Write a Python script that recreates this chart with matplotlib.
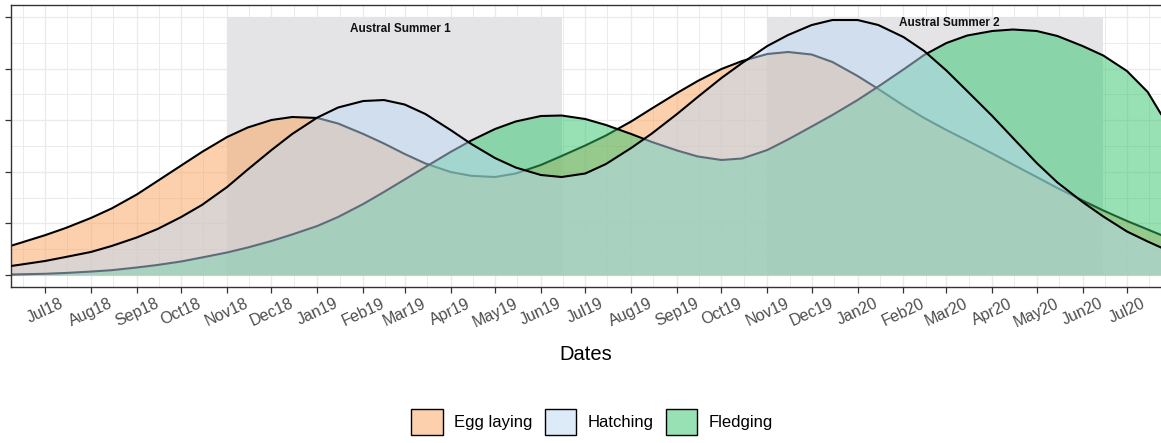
import numpy as np
import matplotlib
matplotlib.use("Agg")
import matplotlib.pyplot as plt
import matplotlib.dates as mdates
from matplotlib.patches import Patch

plt.rcParams['font.family'] = ['Liberation Sans', 'DejaVu Sans']

# sampling dates (1st and 15th of each month)
dates = ["2018-06-08", "2018-06-15"]
for yr, months in ((2018, range(7, 13)), (2019, range(1, 13)), (2020, range(1, 8))):
    for mo in months:
        dates.append(f"{yr}-{mo:02d}-01")
        dates.append(f"{yr}-{mo:02d}-15")
dates.append("2020-07-24")
dates = np.array(dates, dtype="datetime64[D]")

egg_laying = [0.566, 0.628, 0.771, 0.911, 1.105, 1.289, 1.560, 1.822, 2.122, 2.384, 2.674, 2.859, 3.004, 3.062,
              3.043, 2.936, 2.733, 2.548, 2.345, 2.161, 1.996, 1.922, 1.899, 1.967, 2.132, 2.306, 2.510, 2.704,
              2.975, 3.227, 3.527, 3.760, 3.992, 4.147, 4.283, 4.322, 4.273, 4.128,
              3.857, 3.605, 3.285, 3.043, 2.810, 2.607, 2.355, 2.141, 1.899, 1.686, 1.444, 1.250, 1.047, 0.882, 0.775]
hatching = [0.174, 0.203, 0.271, 0.349, 0.446, 0.562, 0.727, 0.891, 1.124, 1.357, 1.705, 2.045, 2.422, 2.733,
            3.052, 3.246, 3.372, 3.391, 3.304, 3.120, 2.810, 2.539, 2.267, 2.083, 1.938, 1.899, 1.967, 2.151,
            2.461, 2.742, 3.120, 3.450, 3.818, 4.109, 4.438, 4.651, 4.845, 4.942,
            4.942, 4.845, 4.612, 4.341, 3.963, 3.566, 3.081, 2.655, 2.171, 1.793, 1.415, 1.134, 0.843, 0.649, 0.533]
fledging = [0.010, 0.014, 0.023, 0.039, 0.066, 0.093, 0.145, 0.194, 0.262, 0.339, 0.436, 0.533, 0.659, 0.785,
            0.950, 1.124, 1.376, 1.609, 1.851, 2.093, 2.384, 2.607, 2.829, 2.975, 3.081, 3.091, 3.023, 2.907,
            2.733, 2.578, 2.413, 2.297, 2.229, 2.258, 2.422, 2.626, 2.878, 3.101,
            3.391, 3.653, 3.983, 4.264, 4.496, 4.641, 4.729, 4.758, 4.729, 4.632, 4.438, 4.254, 3.953, 3.547, 3.120]

series_names = ["Egg laying", "Fledging", "Hatching"]   # drawing order
series_colors = {"Egg laying": "#FBA35B", "Hatching": "#BDD9F5", "Fledging": "#31C56D"}
legend_order = ["Egg laying", "Hatching", "Fledging"]

summers = [("2018-11-01", "2019-06-15"), ("2019-11-01", "2020-06-15")]
summer_labels = ["Austral Summer 1", "Austral Summer 2"]
summer_label_x = ["2019-02-26", "2020-03-03"]
summer_label_y = [4.76, 4.88]
summer_top = 5.0

fig = plt.figure(figsize=(11.61, 4.43), dpi=100)
ax = fig.add_axes([11 / 1161, 156 / 443, 1 - 11 / 1161, 282 / 443])

values = {"Egg laying": egg_laying, "Hatching": hatching, "Fledging": fledging}
z = 2
for name in series_names:
    y = values[name]
    ax.fill_between(dates, 0, y, color=series_colors[name], alpha=0.5, lw=0, zorder=z)
    ax.plot(dates, y, color="black", lw=1.5, zorder=z + 0.1, solid_joinstyle="round")
    z += 0.2

for (s, e), lab, lx, ly in zip(summers, summer_labels, summer_label_x, summer_label_y):
    s, e = np.datetime64(s), np.datetime64(e)
    ax.fill_between([s, e], 0, summer_top, color="#E4E4E6", lw=0, zorder=1)
    ax.text(np.datetime64(lx), ly, lab, ha="center", va="center", fontsize=8.5,
            fontweight="bold", color="#111111", zorder=5)

ax.set_xlim(np.datetime64("2018-06-08"), np.datetime64("2020-07-24"))
ax.set_ylim(-0.233, 5.233)

ax.xaxis.set_major_locator(mdates.MonthLocator())
ax.xaxis.set_major_formatter(mdates.DateFormatter("%b%y"))
ax.xaxis.set_minor_locator(mdates.MonthLocator(bymonthday=16))
ax.set_yticks([0, 1, 2, 3, 4, 5])
ax.set_yticks([0.5, 1.5, 2.5, 3.5, 4.5], minor=True)
ax.set_yticklabels([])

ax.set_axisbelow(True)
ax.grid(which="major", color="#EBEBEB", lw=1.0, zorder=0)
ax.grid(which="minor", color="#EBEBEB", lw=0.7, zorder=0)
ax.tick_params(axis="both", which="minor", length=0)
ax.tick_params(axis="both", which="major", length=4.5, width=0.9, color="#333333")
ax.tick_params(axis="x", labelsize=11.5, labelcolor="#4D4D4D", pad=2)
plt.setp(ax.get_xticklabels(), rotation=25, ha="center")

for side in ("left", "bottom", "top"):
    ax.spines[side].set_color("#333333")
    ax.spines[side].set_linewidth(1.0)
ax.spines["right"].set_visible(False)

fig.text(586 / 1161, 1 - 355 / 443, "Dates", ha="center", va="center", fontsize=14.5)

handles = [Patch(facecolor=series_colors[n], alpha=0.5, edgecolor="black", lw=1.0) for n in legend_order]
leg = fig.legend(handles, legend_order, loc="center", bbox_to_anchor=(592 / 1161, 1 - 422 / 443),
                 ncol=3, frameon=False, fontsize=12, handlelength=1.9, handleheight=2.1,
                 handletextpad=0.65, columnspacing=0.75)
for p in leg.get_patches():
    p.set_alpha(None)
    p.set_facecolor(matplotlib.colors.to_rgba(p.get_facecolor()[:3], 0.5))
    p.set_edgecolor("black")

fig.savefig("out.png", dpi=100)
